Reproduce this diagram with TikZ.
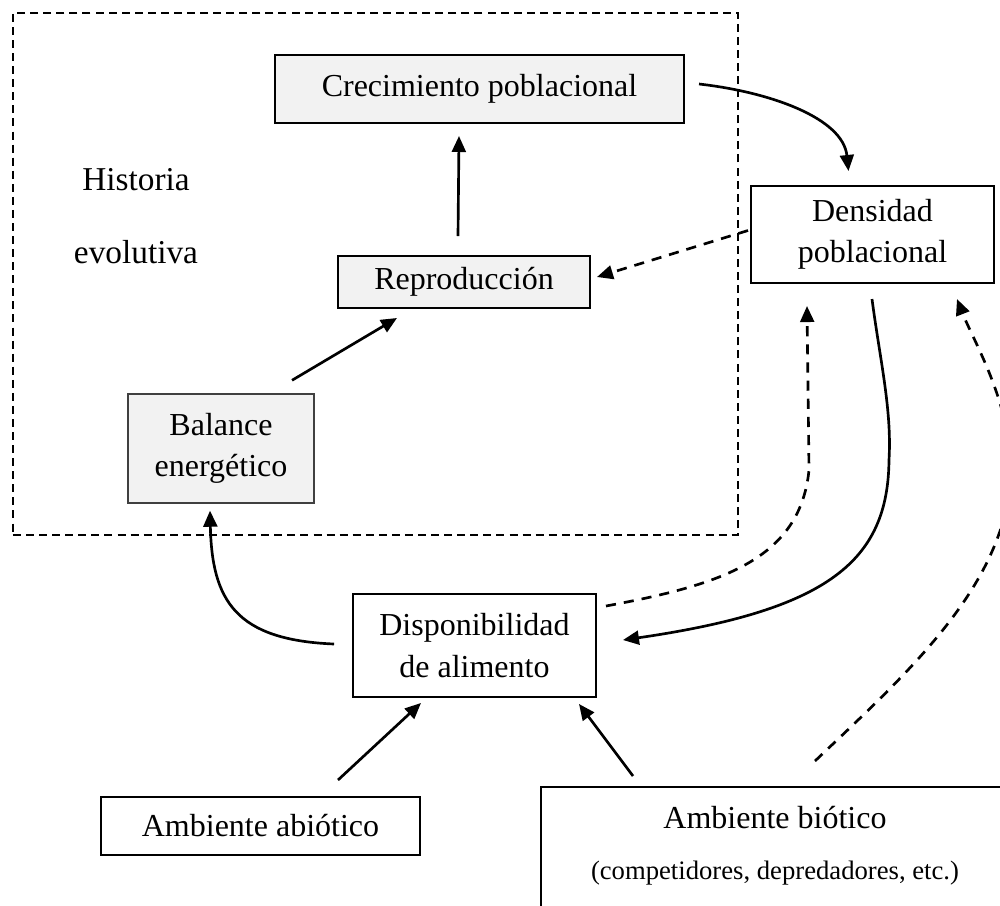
\documentclass[tikz,border=0pt]{standalone}
\usepackage{fontspec}
\setmainfont{Liberation Serif}
\usetikzlibrary{arrows.meta,calc}
\definecolor{boxgray}{HTML}{F2F2F2}
\begin{document}
\begin{tikzpicture}[x=0.375pt,y=-0.375pt,
  box/.style={draw, line width=0.75pt, inner sep=0pt, align=center, font=\fontsize{12}{15.5}\selectfont},
  gbox/.style={box, fill=boxgray},
  arr/.style={line width=1pt, -{Triangle[length=6pt,width=5.2pt]}},
  darr/.style={arr, dash pattern=on 3.8pt off 3pt},
  txt/.style={inner sep=0pt, align=center},
]
\useasboundingbox (0,0) rectangle (1000,905);
\clip (0,0) rectangle (1000,905);

% dashed frame
\node[draw, line width=0.55pt, dash pattern=on 3pt off 1.9pt, minimum width=271.9pt, minimum height=195.75pt, inner sep=0pt] (evo) at (375.5,274) {};
\node[txt, font=\fontsize{12.5}{27.4}\selectfont] (hist) at (136,216.5) {Historia\\evolutiva};

% nodes
\node[gbox, minimum width=153.4pt, minimum height=25.5pt] (crec) at (479.5,89) {Crecimiento poblacional};
\node[gbox, minimum width=94.5pt, minimum height=19.5pt] (repro) at (464,282) {Reproducción};
\node[gbox, line width=0.5pt, draw=black!75, minimum width=69.75pt, minimum height=40.9pt] (bal) at (221,448.5) {Balance\\energético};
\node[box, minimum width=91.1pt, minimum height=36.4pt] (dens) at (872.5,234.5) {Densidad\\poblacional};
\node[box, minimum width=91.1pt, minimum height=38.6pt] (disp) at (474.5,645.5) {Disponibilidad\\de alimento};
\node[box, minimum width=119.6pt, minimum height=21.75pt] (abio) at (260.5,826) {Ambiente abiótico};
\node[box, minimum width=175.5pt, minimum height=48pt] (bio) at (775,851) {};
\node[txt, font=\fontsize{12}{14}\selectfont] (biot) at (775,818) {Ambiente biótico};
\node[txt, font=\fontsize{10}{12}\selectfont] (bios) at (775,873) {(competidores, depredadores, etc.)};

% arrows
\draw[arr] ($(crec.east)+(14,-5)$) .. controls (770,92) and (843,118) .. ($(dens.north)+(-24,-14)$);
\draw[arr] ($(repro.north)+(-6,-19)$) -- ($(crec.south)+(-20.5,12)$);
\draw[arr] ($(bal.north)+(71,-13)$) -- ($(repro.south)+(-67,9)$);
\draw[darr] ($(dens.west)+(-2,-4)$) -- ($(repro.east)+(6,-5)$);
\draw[arr] ($(disp.west)+(-18,-1.5)$) .. controls (235,640) and (212,600) .. ($(bal.south)+(-11,7)$);
\draw[arr] ($(dens.south)+(-0.5,15)$) .. controls (880,360) and (892,410) .. (889,460)
   .. controls (888,560) and (830,610) .. ($(disp.east)+(26,-5.5)$);
\draw[darr] ($(disp.east)+(9,-39.5)$) .. controls (720,585) and (800,560) .. (809,470)
   -- ($(dens.south)+(-65.5,22)$);
\draw[darr] ($(bio.north)+(40,-25)$) .. controls (900,680) and (990,600) .. (1008,500)
   .. controls (1022,420) and (975,345) .. ($(dens.south)+(84.5,15)$);
\draw[arr] ($(abio.north)+(77.5,-16)$) -- ($(disp.south)+(-53.5,5)$);
\draw[arr] ($(bio.north)+(-142,-10)$) -- ($(disp.south)+(104.5,6)$);
\end{tikzpicture}
\end{document}
